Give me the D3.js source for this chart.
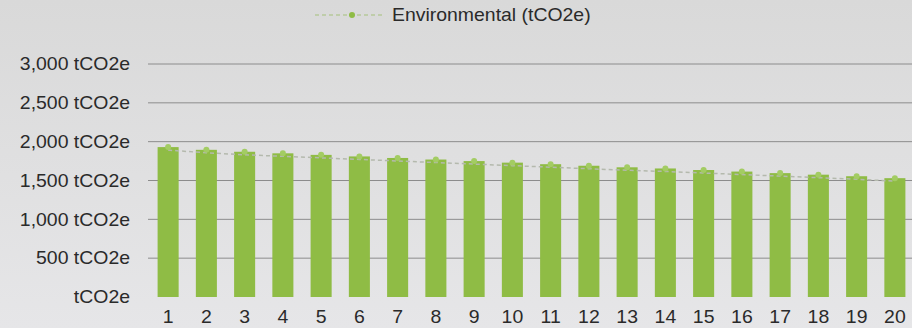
<!DOCTYPE html>
<meta charset="utf-8">
<style>
body { margin: 0; background: #dedede; }
svg { display: block; font-family: "Liberation Sans", Arial, sans-serif; }
</style>
<html>
<head><title>Environmental</title></head>
<body>
<svg id="chart" width="912" height="328"></svg>
</body>
</html>
<script src="https://d3js.org/d3.v7.min.js"></script>
<script>
// data
var years = [1,2,3,4,5,6,7,8,9,10,11,12,13,14,15,16,17,18,19,20];
var envValues = [1930,1895,1870,1850,1830,1810,1790,1770,1750,1730,1710,1690,1670,1655,1635,1615,1595,1575,1555,1530];
var yTicks = [0,500,1000,1500,2000,2500,3000];
var seriesName = "Environmental (tCO2e)";

var svg = d3.select("#chart"),
    width = +svg.attr("width"),
    height = +svg.attr("height");

// background
var defs = svg.append("defs");
var grad = defs.append("linearGradient").attr("id", "bg").attr("x1", 0).attr("y1", 0).attr("x2", 0).attr("y2", 1);
grad.append("stop").attr("offset", "0%").attr("stop-color", "#d9d9d9");
grad.append("stop").attr("offset", "100%").attr("stop-color", "#e6e6e8");
svg.append("rect").attr("width", width).attr("height", height).attr("fill", "url(#bg)");

var x = d3.scaleBand()
    .domain(years)
    .range([149, 914])
    .paddingInner(0.45)
    .paddingOuter(0.225);

var y = d3.scaleLinear()
    .domain([0, 3000])
    .range([297, 64]);

// gridlines
svg.append("g")
  .selectAll("line")
  .data(yTicks.filter(function(d){ return d > 0; }))
  .enter().append("line")
    .attr("x1", 148)
    .attr("x2", width)
    .attr("y1", function(d){ return y(d); })
    .attr("y2", function(d){ return y(d); })
    .attr("stroke", "#8c8c8c")
    .attr("stroke-width", 1);

// y axis labels (text a bit wider than the font, hence the stretch)
var yAxis = d3.axisLeft(y)
    .tickValues(yTicks)
    .tickSize(0)
    .tickPadding(0)
    .tickFormat(function(d){ return d === 0 ? "tCO2e" : d3.format(",")(d) + " tCO2e"; });

svg.append("g")
    .attr("transform", "translate(130,0)")
    .call(yAxis)
    .call(function(g){ g.select(".domain").remove(); })
    .selectAll("text")
      .attr("x", 0)
      .attr("transform", "scale(1.08,1)")
      .attr("font-size", "18px")
      .attr("font-family", "Liberation Sans, Arial, sans-serif")
      .attr("fill", "#2a2a2a");

// bars
svg.append("g")
  .selectAll("rect")
  .data(envValues)
  .enter().append("rect")
    .attr("x", function(d, i){ return x(years[i]); })
    .attr("y", function(d){ return y(d); })
    .attr("width", x.bandwidth())
    .attr("height", function(d){ return y(0) - y(d); })
    .attr("fill", "#8fbc45");

// dashed line + markers
var line = d3.line()
    .x(function(d, i){ return x(years[i]) + x.bandwidth() / 2; })
    .y(function(d){ return y(d) + 3; });

svg.append("path")
    .datum(envValues)
    .attr("d", line)
    .attr("fill", "none")
    .attr("stroke", "#b4b9ad")
    .attr("stroke-width", 1.5)
    .attr("stroke-dasharray", "4,3");

svg.append("g")
  .selectAll("circle")
  .data(envValues)
  .enter().append("circle")
    .attr("cx", function(d, i){ return x(years[i]) + x.bandwidth() / 2; })
    .attr("cy", function(d){ return y(d); })
    .attr("r", 3)
    .attr("fill", "#a3cc63");

// x axis labels
var xAxis = d3.axisBottom(x).tickSize(0).tickPadding(0);
svg.append("g")
    .attr("transform", "translate(0,310)")
    .call(xAxis)
    .call(function(g){ g.select(".domain").remove(); })
    .selectAll("text")
      .attr("transform", "scale(1.08,1)")
      .attr("font-size", "18px")
      .attr("font-family", "Liberation Sans, Arial, sans-serif")
      .attr("fill", "#2a2a2a");

// legend
var legend = svg.append("g").attr("transform", "translate(315,15)");
legend.append("line")
    .attr("x1", 0).attr("x2", 68)
    .attr("y1", 0).attr("y2", 0)
    .attr("stroke", "#b7c99a")
    .attr("stroke-width", 1.5)
    .attr("stroke-dasharray", "4,3");
legend.append("circle")
    .attr("cx", 37).attr("cy", 0).attr("r", 3)
    .attr("fill", "#8fbc45");
legend.append("text")
    .attr("transform", "translate(77,0) scale(1.08,1)")
    .attr("dy", "0.35em")
    .attr("font-size", "18px")
    .attr("fill", "#2a2a2a")
    .text(seriesName);
</script>
